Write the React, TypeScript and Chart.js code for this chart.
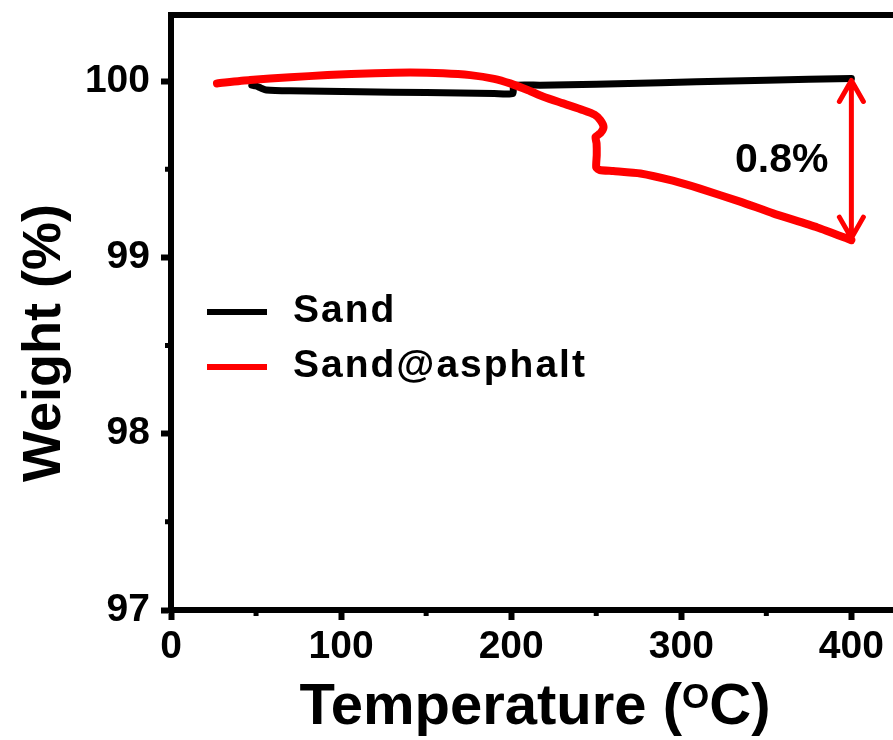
import React, { useEffect, useRef } from 'react';
import { Chart, registerables } from 'chart.js';

Chart.register(...registerables);

// ---- data ----
const sandTemp = [47.5, 50, 53, 56, 70, 111, 150, 190, 201, 201.5, 217, 250, 288, 309, 350, 400];
const sandWeight = [99.978, 99.972, 99.96, 99.95, 99.945, 99.94, 99.935, 99.93, 99.93, 99.975, 99.977, 99.982, 99.99, 99.996, 100.005, 100.015];

const asphaltTemp = [27, 46.5, 70, 92, 120, 140.6, 160, 176, 190, 199.4, 210, 219, 230, 242.5, 249, 252.4, 254.3, 252.5, 249.6, 250.2, 250.3, 250, 252, 260, 276, 295, 311, 335, 354, 380, 400];
const asphaltWeight = [99.987, 100.006, 100.022, 100.034, 100.045, 100.049, 100.045, 100.034, 100.013, 99.987, 99.948, 99.911, 99.875, 99.835, 99.81, 99.779, 99.74, 99.705, 99.683, 99.646, 99.58, 99.51, 99.496, 99.49, 99.476, 99.435, 99.39, 99.315, 99.25, 99.17, 99.098];

const seriesLabels = ['Sand', 'Sand@asphalt'];
const seriesColors = ['#000000', '#ff0000'];

const xTickValues = [0, 100, 200, 300, 400];
const xMinorTickValues = [50, 150, 250, 350];
const yTickValues = [97, 98, 99, 100];
const yMinorTickValues = [97.5, 98.5, 99.5];

const X_MIN = 0;
const X_MAX = 428;
const Y_MIN = 97;
const Y_MAX = 100.375;

const xTitleMain = 'Temperature (';
const xTitleSup = 'O';
const xTitleEnd = 'C)';
const yTitle = 'Weight (%)';
const lossLabel = '0.8%';

const FONT = '"Liberation Sans", Arial, Helvetica, sans-serif';

const decorPlugin = {
  id: 'decor',
  afterDraw(chart: any) {
    const { ctx, chartArea, scales } = chart;
    const { left, top, right, bottom } = chartArea;
    const xs = scales.x;
    const ys = scales.y;
    ctx.save();

    // frame (top and right)
    ctx.strokeStyle = '#000';
    ctx.lineWidth = 6;
    ctx.beginPath();
    ctx.moveTo(left - 3, top);
    ctx.lineTo(right + 3, top);
    ctx.moveTo(right, top);
    ctx.lineTo(right, bottom);
    ctx.stroke();

    // minor ticks
    ctx.lineWidth = 5;
    ctx.beginPath();
    for (const v of xMinorTickValues) {
      const px = xs.getPixelForValue(v);
      ctx.moveTo(px, bottom);
      ctx.lineTo(px, bottom + 6);
    }
    for (const v of yMinorTickValues) {
      const py = ys.getPixelForValue(v);
      ctx.moveTo(left, py);
      ctx.lineTo(left - 6, py);
    }
    ctx.stroke();

    // x title with superscript O
    ctx.fillStyle = '#000';
    ctx.textBaseline = 'alphabetic';
    ctx.textAlign = 'left';
    const mainFont = `bold 58px ${FONT}`;
    const supFont = `bold 35px ${FONT}`;
    ctx.font = mainFont;
    const wA = ctx.measureText(xTitleMain).width;
    const wC = ctx.measureText(xTitleEnd).width;
    ctx.font = supFont;
    const wO = ctx.measureText(xTitleSup).width;
    const total = wA + wO + wC;
    const cx = (left + right) / 2;
    const baseY = 724;
    let sx = cx - total / 2;
    ctx.font = mainFont;
    ctx.fillText(xTitleMain, sx, baseY);
    sx += wA;
    ctx.font = supFont;
    ctx.fillText(xTitleSup, sx, baseY - 16);
    sx += wO;
    ctx.font = mainFont;
    ctx.fillText(xTitleEnd, sx, baseY);

    // y title
    ctx.save();
    ctx.translate(60, 343);
    ctx.rotate(-Math.PI / 2);
    ctx.font = `bold 54px ${FONT}`;
    ctx.textAlign = 'center';
    ctx.fillText(yTitle, 0, 0);
    ctx.restore();

    // legend
    const legendY = [312, 367];
    const textY = [322, 377];
    for (let i = 0; i < seriesLabels.length; i++) {
      ctx.strokeStyle = seriesColors[i];
      ctx.lineWidth = 6;
      ctx.beginPath();
      ctx.moveTo(207, legendY[i]);
      ctx.lineTo(267, legendY[i]);
      ctx.stroke();
      ctx.fillStyle = '#000';
      ctx.font = `bold 39px ${FONT}`;
      (ctx as any).letterSpacing = '2px';
      ctx.textAlign = 'left';
      ctx.fillText(seriesLabels[i], 293, textY[i]);
      (ctx as any).letterSpacing = '0px';
    }

    // loss annotation: double-headed arrow between the two curves at the end temperature
    const endT = sandTemp[sandTemp.length - 1];
    const ax = xs.getPixelForValue(endT);
    const ayTop = ys.getPixelForValue(sandWeight[sandWeight.length - 1]);
    const ayBot = ys.getPixelForValue(asphaltWeight[asphaltWeight.length - 1]);
    ctx.strokeStyle = '#ff0000';
    ctx.lineWidth = 5;
    ctx.lineCap = 'round';
    ctx.lineJoin = 'round';
    ctx.beginPath();
    ctx.moveTo(ax, ayTop + 2);
    ctx.lineTo(ax, ayBot - 2);
    ctx.moveTo(ax - 12, ayTop + 23);
    ctx.lineTo(ax, ayTop + 2);
    ctx.lineTo(ax + 12, ayTop + 23);
    ctx.moveTo(ax - 12, ayBot - 23);
    ctx.lineTo(ax, ayBot - 2);
    ctx.lineTo(ax + 12, ayBot - 23);
    ctx.stroke();

    ctx.fillStyle = '#000';
    ctx.font = `bold 41px ${FONT}`;
    ctx.textAlign = 'left';
    ctx.fillText(lossLabel, 735, 172);

    ctx.restore();
  },
};

export default function App() {
  const ref = useRef<HTMLCanvasElement | null>(null);

  useEffect(() => {
    if (!ref.current) return;
    const toPoints = (xs: number[], ys: number[]) => xs.map((x, i) => ({ x, y: ys[i] }));
    const chart = new Chart(ref.current, {
      type: 'line',
      data: {
        datasets: [
          {
            label: seriesLabels[0],
            data: toPoints(sandTemp, sandWeight),
            borderColor: seriesColors[0],
            borderWidth: 7,
            pointRadius: 0,
            tension: 0.2,
            borderJoinStyle: 'round',
            borderCapStyle: 'round',
            order: 2,
          },
          {
            label: seriesLabels[1],
            data: toPoints(asphaltTemp, asphaltWeight),
            borderColor: seriesColors[1],
            borderWidth: 8,
            pointRadius: 0,
            tension: 0.2,
            borderJoinStyle: 'round',
            borderCapStyle: 'round',
            order: 1,
          },
        ],
      },
      options: {
        responsive: false,
        animation: false,
        devicePixelRatio: 1,
        layout: { padding: { top: 15, right: 11, left: 0, bottom: 0 } },
        plugins: {
          legend: { display: false },
          tooltip: { enabled: false },
        },
        scales: {
          x: {
            type: 'linear',
            min: X_MIN,
            max: X_MAX,
            afterBuildTicks: (s: any) => {
              s.ticks = xTickValues.map((v) => ({ value: v }));
            },
            afterFit: (s: any) => {
              s.height = 130;
              s.paddingLeft = 0;
              s.paddingRight = 0;
            },
            grid: {
              drawOnChartArea: false,
              drawTicks: true,
              tickLength: 10,
              tickWidth: 6,
              tickColor: '#000',
            },
            border: { display: true, color: '#000', width: 6 },
            ticks: {
              color: '#000',
              padding: 4,
              maxRotation: 0,
              autoSkip: false,
              font: { family: FONT, weight: 'bold', size: 39 },
            },
          },
          y: {
            type: 'linear',
            min: Y_MIN,
            max: Y_MAX,
            afterBuildTicks: (s: any) => {
              s.ticks = yTickValues.map((v) => ({ value: v }));
            },
            afterFit: (s: any) => {
              s.width = 171;
              s.paddingTop = 0;
              s.paddingBottom = 0;
            },
            grid: {
              drawOnChartArea: false,
              drawTicks: true,
              tickLength: 10,
              tickWidth: 6,
              tickColor: '#000',
            },
            border: { display: true, color: '#000', width: 6 },
            ticks: {
              color: '#000',
              padding: 11,
              autoSkip: false,
              font: { family: FONT, weight: 'bold', size: 39 },
            },
          },
        },
      },
      plugins: [decorPlugin],
    } as any);
    return () => chart.destroy();
  }, []);

  return (
    <div
      style={{
        position: 'absolute',
        left: 0,
        top: 0,
        width: 893,
        height: 740,
        overflow: 'hidden',
        background: '#fff',
      }}
    >
      <canvas ref={ref} width={910} height={740} style={{ display: 'block' }} />
    </div>
  );
}
